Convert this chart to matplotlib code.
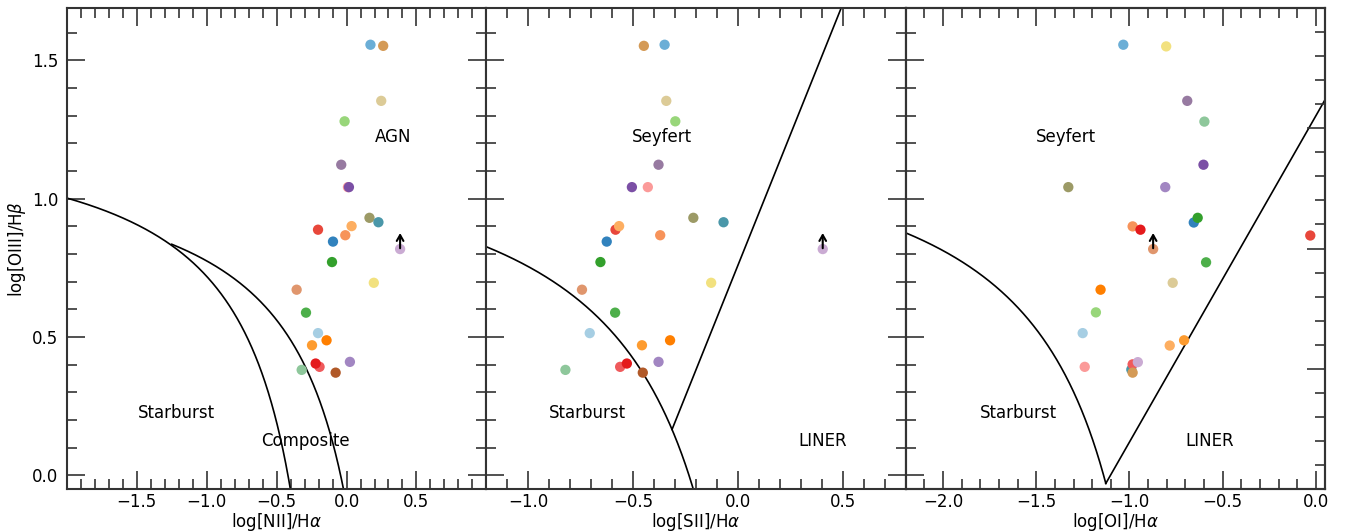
import numpy as np
import matplotlib
matplotlib.use("Agg")
import matplotlib.pyplot as plt
from matplotlib.ticker import MultipleLocator, FixedLocator

# log[OIII]/Hb, shared by the NII and SII panels
y_bpt = [1.557, 1.553, 1.354, 1.280, 1.123, 1.042, 1.042, 0.931, 0.915, 0.888,
         0.901, 0.868, 0.845, 0.818, 0.771, 0.696, 0.671, 0.588, 0.514, 0.488,
         0.470, 0.410, 0.392, 0.404, 0.381, 0.371]
x_nii = [0.171, 0.262, 0.248, -0.014, -0.038, 0.010, 0.017, 0.164, 0.228, -0.204,
         0.036, -0.009, -0.097, 0.383, -0.104, 0.195, -0.357, -0.290, -0.204, -0.143,
         -0.247, 0.024, -0.193, -0.221, -0.321, -0.078]
x_sii = [-0.350, -0.449, -0.342, -0.299, -0.379, -0.430, -0.506, -0.213, -0.069, -0.584,
         -0.567, -0.371, -0.626, 0.404, -0.656, -0.128, -0.744, -0.586, -0.707, -0.324,
         -0.458, -0.379, -0.562, -0.530, -0.823, -0.454]
colors_bpt = ["#6baed6", "#d49a56", "#dccb97", "#98d67a", "#977aa1", "#fb9a99",
              "#7b4fa5", "#9c9a66", "#4a97a9", "#e8473b", "#fdae61", "#f7935a",
              "#3182bd", "#caabd3", "#33a02c", "#f2e17f", "#e0966d", "#4daf4a",
              "#a6cee3", "#ff7f00", "#fd9b2f", "#a286c2", "#ef5a5c", "#e41a1c",
              "#8ec79b", "#b15928"]
limit_bpt = 13

# OI panel
x_oi = [-1.033, -0.803, -0.690, -0.598, -0.603, -1.328, -0.808, -0.655, -0.634, -0.983,
        -0.941, -0.030, -0.873, -0.589, -0.768, -1.155, -1.180, -1.251, -0.707, -0.784,
        -1.240, -0.990, -0.983, -0.955, -0.983]
y_oi = [1.557, 1.551, 1.354, 1.279, 1.123, 1.042, 1.042, 0.914, 0.931, 0.900,
        0.888, 0.867, 0.818, 0.770, 0.696, 0.671, 0.589, 0.514, 0.488, 0.469,
        0.392, 0.382, 0.401, 0.409, 0.371]
colors_oi = ["#6baed6", "#f2e17f", "#977aa1", "#8ec79b", "#7b4fa5", "#9c9a66",
             "#a286c2", "#3182bd", "#33a02c", "#f7935a", "#e41a1c", "#e8473b",
             "#e0966d", "#4daf4a", "#dccb97", "#ff7f00", "#98d67a", "#a6cee3",
             "#fd9b2f", "#fdae61", "#fb9a99", "#4a97a9", "#ef5a5c", "#caabd3",
             "#d49a56"]
limit_oi = 12

EDGE = "#333333"


def style_axis(ax, xlim, xticks, left_labels=False):
    ax.set_xlim(*xlim)
    ax.set_ylim(-0.05, 1.69)
    ax.xaxis.set_major_locator(FixedLocator(xticks))
    ax.xaxis.set_minor_locator(MultipleLocator(0.1))
    ax.yaxis.set_major_locator(MultipleLocator(0.5))
    ax.yaxis.set_minor_locator(MultipleLocator(0.1))
    ax.tick_params(which="both", direction="in", top=True, right=True,
                   color=EDGE, width=1.2, labelsize=12)
    ax.tick_params(axis="y", pad=6)
    ax.tick_params(axis="x", pad=3)
    ax.tick_params(which="major", length=13)
    ax.tick_params(which="minor", length=7)
    if not left_labels:
        ax.tick_params(labelleft=False)
    for s in ax.spines.values():
        s.set_color(EDGE)
        s.set_linewidth(1.5)


def plot_points(ax, x, y, colors, lim):
    ax.scatter(x, y, c=colors, s=55, linewidths=0, zorder=3)
    ax.annotate("", xy=(x[lim], y[lim] + 0.058), xytext=(x[lim], y[lim] + 0.003),
                arrowprops=dict(arrowstyle="->,head_length=0.35,head_width=0.2",
                                color="k", lw=1.5, shrinkA=0, shrinkB=0,
                                mutation_scale=12),
                zorder=4)


fig, (ax1, ax2, ax3) = plt.subplots(1, 3, figsize=(13.55, 5.31), dpi=100)
fig.subplots_adjust(left=0.0494, right=0.978, top=0.985, bottom=0.079, wspace=0)

# NII panel
style_axis(ax1, (-2.0, 1.0), [-1.5, -1.0, -0.5, 0.0, 0.5], left_labels=True)
xk = np.linspace(-2.0, 0.04, 800)
ax1.plot(xk, 0.61 / (xk - 0.05) + 1.3, color="k", lw=1.2)
xw = np.linspace(-1.25, 0.46, 800)
ax1.plot(xw, 0.61 / (xw - 0.47) + 1.19, color="k", lw=1.2)
plot_points(ax1, x_nii, y_bpt, colors_bpt, limit_bpt)
ax1.text(0.336, 1.222, "AGN", fontsize=12, ha="center", va="center")
ax1.text(-1.22, 0.224, "Starburst", fontsize=12, ha="center", va="center")
ax1.text(-0.293, 0.123, "Composite", fontsize=12, ha="center", va="center")
ax1.set_xlabel(r"log[NII]/H$\alpha$", fontsize=12, labelpad=0)
ax1.set_ylabel(r"log[OIII]/H$\beta$", fontsize=12, labelpad=3)

# SII panel
style_axis(ax2, (-1.2, 0.8), [-1.0, -0.5, 0.0, 0.5])
r = np.roots([1.89, -(1.89 * 0.32 + 0.54), 0.54 * 0.32 - 0.72])
x0 = r.min()
xs = np.linspace(-1.2, 0.31, 800)
ax2.plot(xs, 0.72 / (xs - 0.32) + 1.30, color="k", lw=1.2)
xl = np.array([x0, 0.8])
ax2.plot(xl, 1.89 * xl + 0.76, color="k", lw=1.2)
plot_points(ax2, x_sii, y_bpt, colors_bpt, limit_bpt)
ax2.text(-0.362, 1.222, "Seyfert", fontsize=12, ha="center", va="center")
ax2.text(-0.718, 0.224, "Starburst", fontsize=12, ha="center", va="center")
ax2.text(0.404, 0.123, "LINER", fontsize=12, ha="center", va="center")
ax2.set_xlabel(r"log[SII]/H$\alpha$", fontsize=12, labelpad=0)

# OI panel
style_axis(ax3, (-2.2, 0.05), [-2.0, -1.5, -1.0, -0.5, 0.0])
ax3.tick_params(which="both", right=False)
u = np.roots([1.18, -(1.18 * 0.59 - 1.30 + 1.33), -0.73]).min()
x1 = u - 0.59
xo = np.linspace(-2.2, x1, 800)
ax3.plot(xo, 0.73 / (xo + 0.59) + 1.33, color="k", lw=1.2)
xl3 = np.array([x1, 0.05])
ax3.plot(xl3, 1.18 * xl3 + 1.30, color="k", lw=1.2)
plot_points(ax3, x_oi, y_oi, colors_oi, limit_oi)
ax3.text(-1.339, 1.222, "Seyfert", fontsize=12, ha="center", va="center")
ax3.text(-1.595, 0.224, "Starburst", fontsize=12, ha="center", va="center")
ax3.text(-0.571, 0.123, "LINER", fontsize=12, ha="center", va="center")
ax3.set_xlabel(r"log[OI]/H$\alpha$", fontsize=12, labelpad=0)

ax3r = ax3.twinx()
ax3r.set_ylim(0, 2)
ax3r.yaxis.set_major_locator(MultipleLocator(0.5))
ax3r.yaxis.set_minor_locator(MultipleLocator(0.1))
ax3r.tick_params(which="both", direction="in", labelright=False, color=EDGE, width=1.2)
ax3r.tick_params(which="major", length=13)
ax3r.tick_params(which="minor", length=7)
for s in ax3r.spines.values():
    s.set_color(EDGE)
    s.set_linewidth(1.5)

fig.savefig("out.png", dpi=100)
